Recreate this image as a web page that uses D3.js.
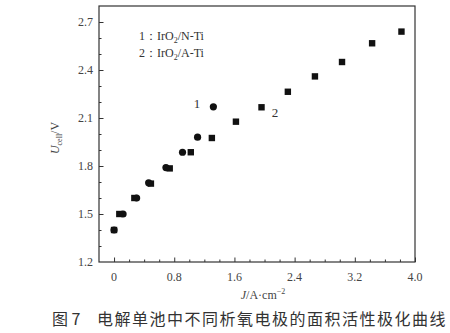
<!DOCTYPE html>
<html><head><meta charset="utf-8">
<script src="https://cdn.jsdelivr.net/npm/d3@7"></script>
<style>body{margin:0;background:#fff}svg{display:block}</style>
</head><body>
<svg id="c" width="450" height="333"></svg>
<script>
const s1J = [0.00, 0.12, 0.30, 0.46, 0.69, 0.91, 1.11, 1.32];
const s1U = [1.40, 1.50, 1.60, 1.695, 1.79, 1.886, 1.98, 2.17];
const s2J = [0.00, 0.07, 0.27, 0.49, 0.74, 1.02, 1.30, 1.62, 1.96, 2.31, 2.67, 3.03, 3.43, 3.82];
const s2U = [1.40, 1.50, 1.60, 1.69, 1.785, 1.886, 1.975, 2.077, 2.167, 2.264, 2.36, 2.45, 2.567, 2.64];
const xTicks = [0, 0.8, 1.6, 2.4, 3.2, 4.0];
const yTicks = [1.2, 1.5, 1.8, 2.1, 2.4, 2.7];
const legendLabels = ["IrO2/N-Ti", "IrO2/A-Ti"];
const caption = ["图 7", "电解单池中不同析氧电极的面积活性极化曲线"];

const svg = d3.select("#c");
const L = 99, R = 415, T = 6, B = 262;
const x = d3.scaleLinear().domain([-0.2, 4.0]).range([L, R]);
const y = d3.scaleLinear().domain([1.2, 2.8]).range([B, T]);
const serif = "'Liberation Serif','Times New Roman',serif";
const axCol = "#333";

// frame
svg.append("rect").attr("x", L).attr("y", T).attr("width", R - L).attr("height", B - T)
  .attr("fill", "none").attr("stroke", axCol).attr("stroke-width", 1.2);

// x axis ticks (inward)
const gx = svg.append("g").attr("transform", `translate(0,${B})`)
  .call(d3.axisTop(x).tickValues(d3.range(0, 4.01, 0.2)).tickSize(3).tickFormat(""));
gx.select(".domain").remove();
gx.selectAll("line").attr("stroke", axCol)
  .attr("y2", d => (Math.abs(d / 0.8 - Math.round(d / 0.8)) < 1e-6 ? -4.5 : -2.5));
svg.append("g").selectAll("text").data(xTicks).join("text")
  .attr("x", d => x(d)).attr("y", B + 19).attr("text-anchor", "middle")
  .attr("font-family", serif).attr("font-size", 12).attr("fill", "#444")
  .text(d => d === 0 ? "0" : d.toFixed(1));

// y axis ticks (inward)
const gy = svg.append("g").attr("transform", `translate(${L},0)`)
  .call(d3.axisRight(y).tickValues(d3.range(1.3, 2.75, 0.1)).tickSize(3).tickFormat(""));
gy.select(".domain").remove();
gy.selectAll("line").attr("stroke", axCol)
  .attr("x2", d => (Math.abs(d / 0.3 - Math.round(d / 0.3)) < 1e-6 ? 4.5 : 2.5));
svg.append("g").selectAll("text").data(yTicks).join("text")
  .attr("x", L - 6).attr("y", d => y(d) + 4).attr("text-anchor", "end")
  .attr("font-family", serif).attr("font-size", 12).attr("fill", "#444")
  .text(d => d.toFixed(1));

// axis titles
const yl = svg.append("text").attr("transform", `translate(59,138) rotate(-90)`)
  .attr("text-anchor", "middle").attr("font-family", serif).attr("font-size", 12).attr("fill", "#444");
yl.append("tspan").attr("font-style", "italic").text("U");
yl.append("tspan").attr("font-size", 8).attr("dy", 3).text("cell");
yl.append("tspan").attr("dy", -3).text("/V");

const xl = svg.append("text").attr("x", 263).attr("y", 299).attr("text-anchor", "middle")
  .attr("font-family", serif).attr("font-size", 12).attr("fill", "#444");
xl.append("tspan").attr("font-style", "italic").text("J");
xl.append("tspan").text("/A·cm");
xl.append("tspan").attr("font-size", 8).attr("dy", -5).text("−2");

// markers
svg.append("g").selectAll("rect").data(s2J.map((d, i) => [d, s2U[i]])).join("rect")
  .attr("x", d => x(d[0]) - 3.2).attr("y", d => y(d[1]) - 3.2)
  .attr("width", 6.4).attr("height", 6.4).attr("fill", "#111");
svg.append("g").selectAll("circle").data(s1J.map((d, i) => [d, s1U[i]])).join("circle")
  .attr("cx", d => x(d[0])).attr("cy", d => y(d[1])).attr("r", 3.6).attr("fill", "#111");

// legend
legendLabels.forEach((lab, i) => {
  const t = svg.append("text").attr("x", 139).attr("y", 40 + i * 17)
    .attr("font-family", serif).attr("font-size", 12).attr("fill", "#333");
  t.append("tspan").text((i + 1) + "：" + lab.slice(0, 3));
  t.append("tspan").attr("font-size", 8).attr("dy", 3).text("2");
  t.append("tspan").attr("dy", -3).text(lab.slice(4));
});
// series labels
svg.append("text").attr("x", 197).attr("y", 108).attr("text-anchor", "middle")
  .attr("font-family", serif).attr("font-size", 13).attr("fill", "#333").text("1");
svg.append("text").attr("x", 275).attr("y", 117).attr("text-anchor", "middle")
  .attr("font-family", serif).attr("font-size", 13).attr("fill", "#333").text("2");

// caption
svg.append("text").attr("x", 52).attr("y", 325)
  .attr("font-family", "'Noto Sans CJK SC',sans-serif").attr("font-size", 16).attr("fill", "#333")
  .text(caption[0]);
svg.append("text").attr("x", 97).attr("y", 325).attr("letter-spacing", 1.5)
  .attr("font-family", "'Noto Sans CJK SC',sans-serif").attr("font-size", 16).attr("fill", "#333")
  .text(caption[1]);
</script>
</body></html>
